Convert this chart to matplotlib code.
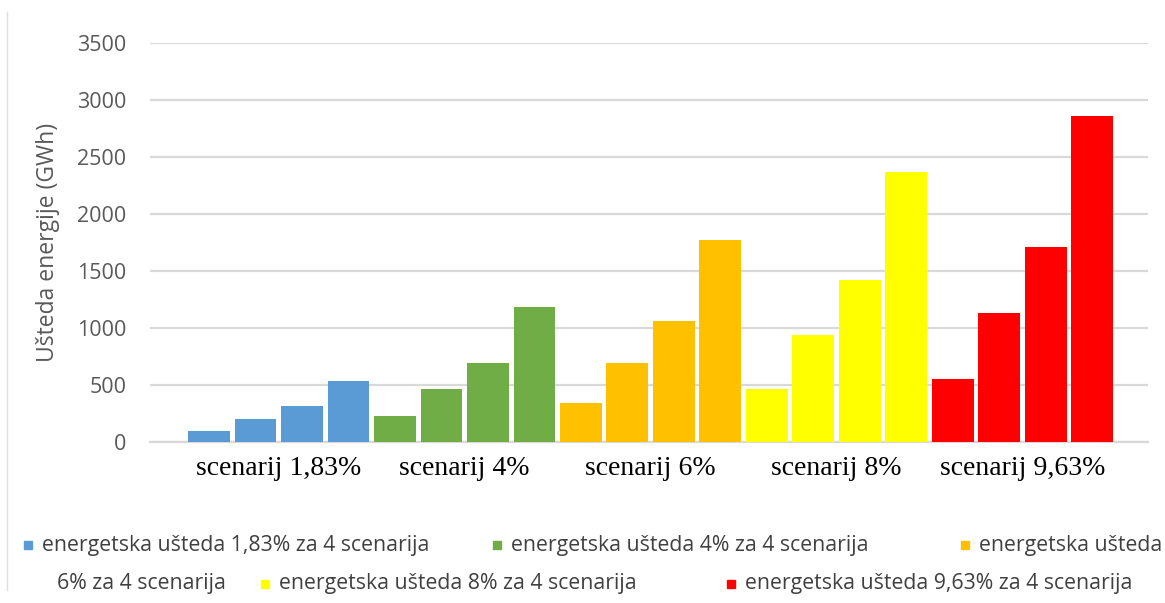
import matplotlib.pyplot as plt
from matplotlib.patches import Rectangle
from matplotlib.lines import Line2D

# data
scenarios = ['scenarij 1,83%', 'scenarij 4%', 'scenarij 6%', 'scenarij 8%', 'scenarij 9,63%']
savings_183 = [93, 204, 318, 531]
savings_4 = [224, 467, 697, 1182]
savings_6 = [341, 697, 1060, 1774]
savings_8 = [467, 940, 1421, 2367]
savings_963 = [557, 1135, 1710, 2860]
legend_labels = ['energetska ušteda 1,83% za 4 scenarija',
                 'energetska ušteda 4% za 4 scenarija',
                 'energetska ušteda 6% za 4 scenarija',
                 'energetska ušteda 8% za 4 scenarija',
                 'energetska ušteda 9,63% za 4 scenarija']
colors = ['#5B9BD5', '#70AD47', '#FFC000', '#FFFF00', '#FF0000']
yticks = [0, 500, 1000, 1500, 2000, 2500, 3000, 3500]

groups = [savings_183, savings_4, savings_6, savings_8, savings_963]

plt.rcParams['font.family'] = ['Open Sans', 'DejaVu Sans']

fig = plt.figure(figsize=(11.65, 6.03), dpi=100)
ax = fig.add_axes([150/1165, 1-442/603, 998/1165, 399/603])

centers = []
for g, vals in enumerate(groups):
    xs = [g*4 + i for i in range(len(vals))]
    ax.bar(xs, vals, width=0.9, color=colors[g], zorder=3)
    centers.append(sum(xs)/len(xs))

ax.set_xlim(-1.27, 20.2)
ax.set_ylim(0, 3500)
ax.set_yticks(yticks)
ax.set_yticklabels([str(t) for t in yticks])
ax.set_xticks(centers)
ax.set_xticklabels(scenarios, family='Liberation Serif', fontsize=20, color='black')
ax.tick_params(axis='x', length=0, pad=10)
ax.tick_params(axis='y', length=0, pad=17, labelsize=15.5, labelcolor='#595959')
ax.grid(axis='y', color='#d9d9d9', linewidth=1.6, zorder=0)
for s in ['top', 'right', 'left']:
    ax.spines[s].set_visible(False)
ax.spines['bottom'].set_color('#d9d9d9')
ax.spines['bottom'].set_linewidth(1.6)
ax.set_ylabel('Ušteda energije (GWh)', fontsize=16.5, color='#595959', labelpad=12)

# legend drawn by hand, wrapped like the original
def legend_item(x, y, color, text):
    fig.patches.append(Rectangle(((x-4)/1165, 1-(y+4)/603), 8/1165, 8/603,
                                 transform=fig.transFigure, color=color))
    fig.text((x+14)/1165, 1-y/603, text, fontsize=15.3, color='#404040', va='center')

legend_item(28, 545, colors[0], legend_labels[0])
legend_item(497, 545, colors[1], legend_labels[1])
first, rest = legend_labels[2].split(' 6%')
legend_item(965, 545, colors[2], first)
fig.text(57/1165, 1-584/603, '6%' + rest, fontsize=15.3, color='#404040', va='center')
legend_item(265, 584, colors[3], legend_labels[3])
legend_item(731, 584, colors[4], legend_labels[4])

fig.lines.append(Line2D([7/1165, 7/1165], [1-590/603, 1-12/603],
                        transform=fig.transFigure, color='#e0e0e0', linewidth=1))

fig.savefig('out.png', dpi=100)
